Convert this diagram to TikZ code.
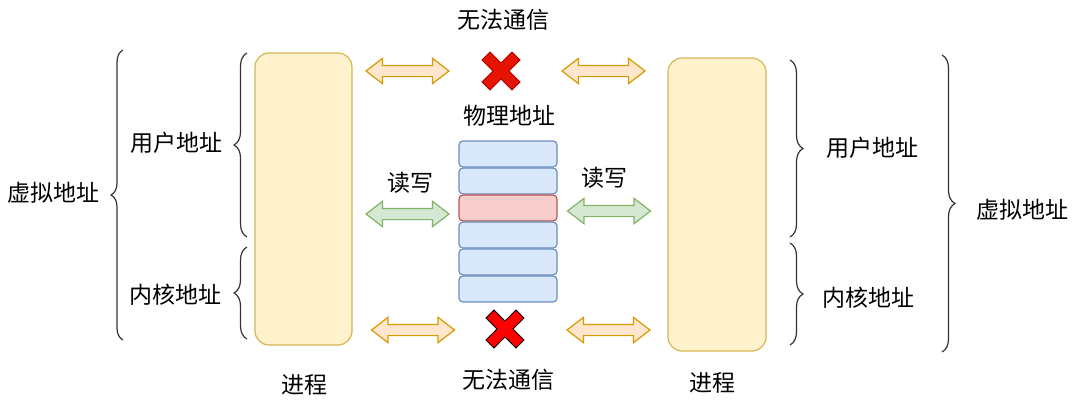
\documentclass[tikz,border=0pt]{standalone}
\usepackage{fontspec}
\setmainfont{Noto Sans CJK SC}
\usetikzlibrary{positioning}
\usetikzlibrary{shapes.arrows}
\usetikzlibrary{decorations.pathreplacing}
\definecolor{procfill}{HTML}{FFF2CC}
\definecolor{procline}{HTML}{D6B656}
\definecolor{pagefill}{HTML}{DAE8FC}
\definecolor{pageline}{HTML}{6C8EBF}
\definecolor{hotfill}{HTML}{F8CECC}
\definecolor{hotline}{HTML}{B85450}
\definecolor{orafill}{HTML}{FFE6CC}
\definecolor{oraline}{HTML}{D79B00}
\definecolor{grnfill}{HTML}{D5E8D4}
\definecolor{grnline}{HTML}{82B366}
\definecolor{nofill}{HTML}{E51400}
\definecolor{noline}{HTML}{B20000}
\definecolor{brace}{HTML}{333333}
\tikzset{
	lbl/.style={font=\fontsize{23}{27}\selectfont, text=black, inner sep=0pt},
	proc/.style={draw=procline, fill=procfill, line width=1.2pt, rounded corners=14pt},
	page/.style={draw=pageline, fill=pagefill, line width=1.2pt, rounded corners=4pt,
		minimum width=98pt, minimum height=26pt, inner sep=0pt, outer sep=0pt},
	hotpage/.style={page, draw=hotline, fill=hotfill},
	dbl/.style={double arrow, draw=#1line, fill=#1fill, line width=1.2pt,
		inner sep=5pt, double arrow head extend=7pt, double arrow tip angle=75,
		minimum width=25pt, minimum height=83pt},
	curly/.style={draw=brace, line width=1.2pt, decorate,
		decoration={brace, amplitude=#1}},
	redx/.pic={
		\filldraw[fill=\xfill, draw=\xline, line width=1pt]
		(-19,-11) -- (-11,-19) -- (0,-8) -- (11,-19) -- (19,-11) -- (8,0)
		-- (19,11) -- (11,19) -- (0,8) -- (-11,19) -- (-19,11) -- (-8,0) -- cycle;
	}
}
\newcommand{\xfill}{nofill}
\newcommand{\xline}{noline}
\begin{document}
\begin{tikzpicture}[x=1pt,y=-1pt]
	\useasboundingbox (0,0) rectangle (1080,413);
	\draw[proc] (255,53) rectangle (352,345);
	\draw[proc] (668,58) rectangle (766,351);
	\node[lbl] (procl) at (304,385) {进程};
	\node[lbl] (procr) at (712,383) {进程};

	\path (123,340) coordinate(lo1) (123,50) coordinate(lo2)
	(247,237) coordinate(lu1) (247,53) coordinate(lu2)
	(247,339) coordinate(lk1) (247,247) coordinate(lk2)
	(790,60) coordinate(ru1) (790,237) coordinate(ru2)
	(790,243) coordinate(rk1) (790,345) coordinate(rk2)
	(942,55) coordinate(ro1) (942,352) coordinate(ro2);
	\draw[curly=12pt] (lo1) -- (lo2);
	\draw[curly=13pt] (lu1) -- (lu2);
	\draw[curly=13pt] (lk1) -- (lk2);
	\draw[curly=13pt] (ru1) -- (ru2);
	\draw[curly=13pt] (rk1) -- (rk2);
	\draw[curly=13pt] (ro1) -- (ro2);
	\node[lbl] (virtl) at (54,193) {虚拟地址};
	\node[lbl] (userl) at (176,143) {用户地址};
	\node[lbl] (kernl) at (175,295) {内核地址};
	\node[lbl] (userr) at (872,148) {用户地址};
	\node[lbl] (kernr) at (868,298) {内核地址};
	\node[lbl] (virtr) at (1022,210) {虚拟地址};

	\node[page] (p1) at (508,154) {};
	\node[page, below=1pt of p1] (p2) {};
	\node[hotpage, below=1pt of p2] (p3) {};
	\node[page, below=1pt of p3] (p4) {};
	\node[page, below=1pt of p4] (p5) {};
	\node[page, below=1pt of p5] (p6) {};
	\node[lbl] (phys) at (509,116) {物理地址};

	\node[dbl=ora] (atl) at (407.5,71) {};
	\node[dbl=ora] (atr) at (603.5,71) {};
	\node[dbl=grn] (agl) at (407.5,214) {};
	\node[dbl=grn] (agr) at (609,211) {};
	\node[dbl=ora] (abl) at (413,330) {};
	\node[dbl=ora] (abr) at (608.5,330) {};
	\node[lbl] (rwl) at (410,183) {读写};
	\node[lbl] (rwr) at (604,178) {读写};

	\coordinate (xtop) at (501,71);
	\coordinate (xbot) at (505,329);
	\pic at (xtop) {redx};
	\renewcommand{\xfill}{red}
	\renewcommand{\xline}{black}
	\pic at (xbot) {redx};
	\node[lbl] (notop) at (503,20) {无法通信};
	\node[lbl] (nobot) at (508,380) {无法通信};
\end{tikzpicture}
\end{document}
